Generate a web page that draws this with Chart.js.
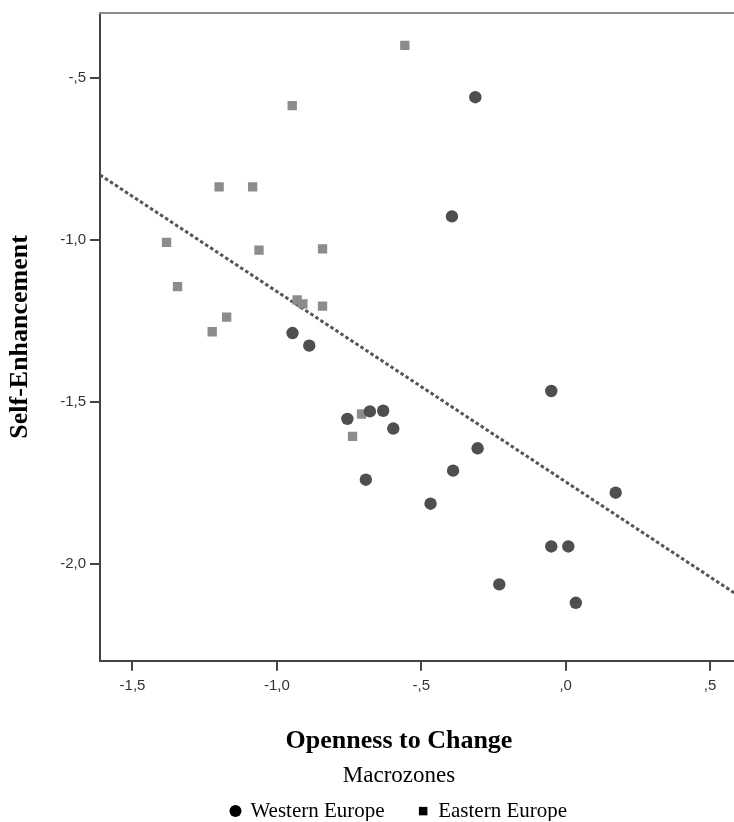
<!DOCTYPE html>
<html>
<head>
<meta charset="utf-8">
<script src="https://cdn.jsdelivr.net/npm/chart.js@4"></script>
<style>
  html, body { margin: 0; padding: 0; background: #fff; overflow: hidden; }
  #wrap { width: 798px; height: 822px; }
</style>
</head>
<body>
<div id="wrap"><canvas id="scatter" width="798" height="822"></canvas></div>
<script>
  /* ========= Data ========= */
  const groups = ["Western Europe", "Eastern Europe"];

  const westX = [-0.313, -0.394, -0.946, -0.888, -0.756, -0.678, -0.632, -0.597, -0.692,
                 -0.050, -0.305, -0.390, -0.468, 0.173, -0.050, 0.009, -0.230, 0.035];
  const westY = [-0.560, -0.928, -1.288, -1.327, -1.553, -1.530, -1.528, -1.583, -1.741,
                 -1.467, -1.644, -1.713, -1.815, -1.781, -1.947, -1.947, -2.064, -2.121];

  const eastX = [-0.557, -0.947, -1.200, -1.084, -1.382, -1.062, -0.842, -1.344, -0.930,
                 -0.910, -0.842, -1.174, -1.224, -0.707, -0.738];
  const eastY = [-0.400, -0.586, -0.837, -0.837, -1.008, -1.032, -1.028, -1.145, -1.186,
                 -1.198, -1.205, -1.239, -1.284, -1.538, -1.607];

  // fit line, ends at the axis limits
  const fitX = [-1.6125, 0.6];
  const fitY = [-0.80, -2.10];

  const xTickValues = [-1.5, -1.0, -0.5, 0, 0.5];
  const xTickLabels = ["-1,5", "-1,0", "-,5", ",0", ",5"];
  const yTickValues = [-2.0, -1.5, -1.0, -0.5];
  const yTickLabels = ["-2,0", "-1,5", "-1,0", "-,5"];

  const xMin = -1.6125, xMax = 0.6;
  const yMin = -2.3, yMax = -0.3;

  function toPoints(xs, ys) { return xs.map((x, i) => ({ x: x, y: ys[i] })); }

  const serif = "'Liberation Serif', 'Times New Roman', serif";
  const sans = "'Liberation Sans', Arial, sans-serif";
  const axisColor = "#444";

  const tickFont = { family: sans, size: 15 };
  const hiddenAxis = {
    grid: { display: false, drawTicks: false },
    ticks: { display: false }
  };

  /* ========= Chart ========= */
  new Chart(document.getElementById("scatter"), {
    type: "scatter",
    data: {
      datasets: [
        {
          label: groups[0],
          data: toPoints(westX, westY),
          pointStyle: "circle",
          pointRadius: 6.2,
          pointHoverRadius: 6.2,
          backgroundColor: "#4f4f4f",
          borderWidth: 0
        },
        {
          label: groups[1],
          data: toPoints(eastX, eastY),
          pointStyle: "rect",
          pointRadius: 6.6,
          pointHoverRadius: 6.6,
          backgroundColor: "#8c8c8c",
          borderWidth: 0
        },
        {
          label: "Fit",
          data: toPoints(fitX, fitY),
          showLine: true,
          pointRadius: 0,
          borderColor: "#555",
          borderWidth: 3,
          borderDash: [3.5, 2.5]
        }
      ]
    },
    options: {
      responsive: false,
      animation: false,
      events: [],
      layout: { padding: { top: 13, bottom: 1, left: 0, right: 0 } },
      scales: {
        x: {
          type: "linear",
          position: "bottom",
          min: xMin,
          max: xMax,
          afterBuildTicks: (s) => { s.ticks = xTickValues.map((v) => ({ value: v })); },
          afterFit: (s) => { s.height = 45; },
          grid: { drawOnChartArea: false, drawTicks: true, tickLength: 10, color: axisColor, lineWidth: 2 },
          border: { display: true, color: axisColor, width: 2 },
          ticks: {
            autoSkip: false, maxRotation: 0, padding: 6, color: "#333", font: tickFont,
            callback: (v, i) => xTickLabels[i]
          }
        },
        y: {
          type: "linear",
          position: "left",
          min: yMin,
          max: yMax,
          afterBuildTicks: (s) => { s.ticks = yTickValues.map((v) => ({ value: v })); },
          afterFit: (s) => { s.width = 100; },
          grid: { drawOnChartArea: false, drawTicks: true, tickLength: 10, color: axisColor, lineWidth: 2 },
          border: { display: true, color: axisColor, width: 2 },
          ticks: {
            autoSkip: false, padding: 4, color: "#333", font: tickFont,
            callback: (v, i) => yTickLabels[i]
          },
          title: {
            display: true,
            text: "Self-Enhancement",
            color: "#000",
            font: { family: serif, size: 26, weight: "bold", lineHeight: 1.2 },
            padding: { top: 5, bottom: 0 }
          }
        },
        // top edge of the frame
        xTop: Object.assign({
          type: "linear", axis: "x", position: "top",
          afterFit: (s) => { s.height = 0; },
          border: { display: true, color: "#8a8a8a", width: 2 }
        }, hiddenAxis),
        // empty strip on the right so the frame runs past the page edge
        yRight: Object.assign({
          type: "linear", axis: "y", position: "right",
          afterFit: (s) => { s.width = 59; },
          border: { display: false }
        }, hiddenAxis)
      },
      plugins: {
        tooltip: { enabled: false },
        title: {
          display: true,
          position: "bottom",
          weight: 5,
          text: "Openness to Change",
          color: "#000",
          font: { family: serif, size: 26, weight: "bold", lineHeight: 1.2 },
          padding: { top: 20, bottom: 0 }
        },
        legend: {
          position: "bottom",
          weight: 10,
          maxHeight: 64,
          title: {
            display: true,
            text: "Macrozones",
            color: "#000",
            font: { family: serif, size: 23, lineHeight: 1.2 },
            padding: { top: 7.5, bottom: -25.5 }
          },
          labels: {
            usePointStyle: true,
            boxWidth: 9,
            boxHeight: 8.5,
            padding: 34,
            color: "#000",
            font: { family: serif, size: 21 },
            filter: (item) => item.datasetIndex < 2,
            generateLabels: (chart) =>
              Chart.defaults.plugins.legend.labels.generateLabels(chart).map((l) =>
                Object.assign(l, { fillStyle: "#000", strokeStyle: "#000", lineWidth: 0 }))
          }
        }
      }
    }
  });
</script>
</body>
</html>
